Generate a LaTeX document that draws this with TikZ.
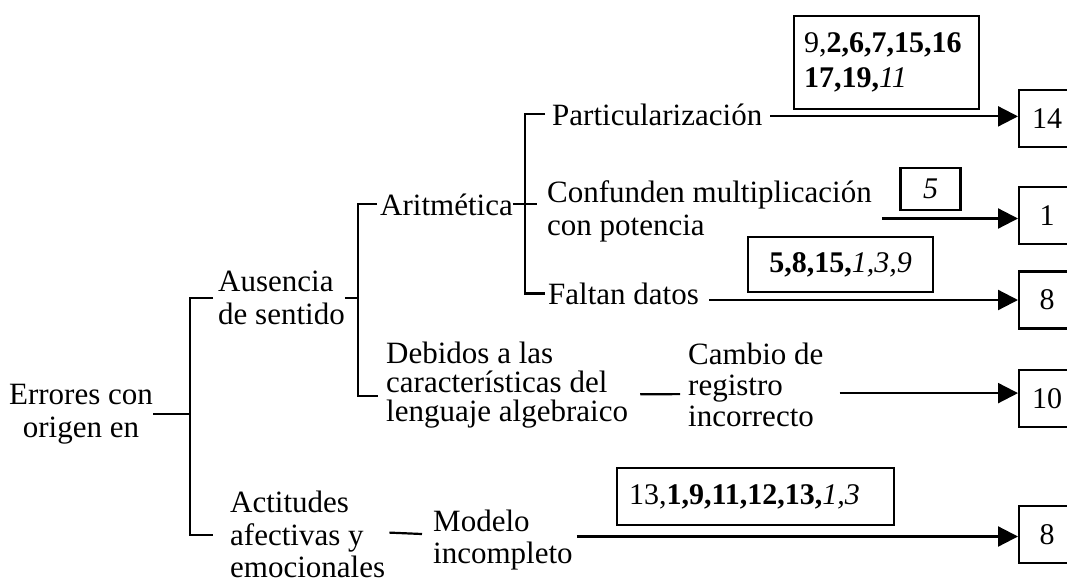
\documentclass[tikz,border=0pt]{standalone}
\usepackage{fontspec}
\setmainfont{Liberation Serif}
\usetikzlibrary{arrows.meta,calc}
\begin{document}
\begin{tikzpicture}[x=1pt,y=-1pt,
  txt/.style={inner sep=0pt, font=\fontsize{31}{33}\selectfont, align=left},
  numbox/.style={draw, line width=2.2pt, inner sep=0pt, font=\fontsize{30}{35}\selectfont},
  res/.style={draw, line width=2.2pt, minimum width=56pt, minimum height=57pt, inner sep=0pt, anchor=west, font=\fontsize{30}{34}\selectfont},
  con/.style={line width=2.2pt},
  arr/.style={line width=2.2pt, -{Triangle[length=20pt,width=20pt]}},
]
\useasboundingbox (0,0) rectangle (1067,586);
\clip (0,0) rectangle (1067,586);

% text nodes
\node[txt, align=center, anchor=north] (err) at (81,384) {Errores con\\origen en};
\node[txt, anchor=north west] (aus) at (218,271) {Ausencia\\de sentido};
\node[txt, anchor=base west] (arit) at (380,215) {Aritmética};
\node[txt, anchor=base west] (part) at (552,125) {Particularización};
\node[txt, anchor=north west] (conf) at (547,180) {Confunden multiplicación\\con potencia};
\node[txt, anchor=base west] (falt) at (548,304) {Faltan datos};
\node[txt, anchor=north west, font=\fontsize{31}{29}\selectfont] (deb) at (386,342) {Debidos a las\\características del\\lenguaje algebraico};
\node[txt, anchor=north west, font=\fontsize{31}{31}\selectfont] (cam) at (688,343) {Cambio de\\registro\\incorrecto};
\node[txt, anchor=north west, font=\fontsize{31}{32.5}\selectfont] (act) at (230,491) {Actitudes\\afectivas y\\emocionales};
\node[txt, anchor=north west, font=\fontsize{31}{31.5}\selectfont] (mod) at (433,510) {Modelo\\incompleto};

% result boxes
\node[res] (r14) at (1018,118.5) {14};
\node[res] (r1) at (1018,215.5) {1};
\node[res] (r8a) at (1018,300) {8};
\node[res] (r10) at (1018,398.5) {10};
\node[res] (r8b) at (1018,534.5) {8};

% label boxes
\node[numbox, anchor=north west, align=left, text width=165pt, inner xsep=10pt, minimum height=93pt] (l1) at (793,15) {9,\textbf{2,6,7,15,16}\\\textbf{17,19,}\textit{11}};
\node[numbox, minimum width=60pt, minimum height=42pt] (l2) at (930.5,189) {\textit{5}};
\node[numbox, minimum width=185pt, minimum height=55pt] (l3) at (840.5,264.5) {\textbf{5,8,15,}\textit{1,3,9}};
\node[numbox, anchor=west, minimum width=277pt, minimum height=57pt, text width=253pt, inner xsep=12pt, align=left] (l4) at (616,496.5) {13,\textbf{1,9,11,12,13,}\textit{1,3}};

% bracket spines
\coordinate (s1) at (190,416);
\coordinate (s2) at (358,301);
\coordinate (s3) at (525,205);

\draw[con] (err.east) -- (err.east -| s1);
\draw[con] ($(aus.west)+(-5,0)$) -- (aus.west -| s1) -- (act.west -| s1) -- ($(act.west)+(-17,0)$);
\draw[con] (aus.east) -- (aus.east -| s2);
\draw[con] ($(arit.west)+(-3,0)$) -- (arit.west -| s2) -- ($(deb.west -| s2)+(0,11)$) -- ($(deb.west)+(-8,11)$);
\draw[con] (arit.east) -- ($(arit.east -| conf.west)+(-10,0)$);
\draw[con] ($(part.west)+(-7,0)$) -- (part.west -| s3) -- (falt.west -| s3) -- ($(falt.west)+(-3,0)$);

% arrows
\draw[arr] ($(part.east)+(8,2)$) -- ($(part.east -| r14.west)+(0,2)$);
\draw[arr] ($(conf.east |- r1.west)+(10,3)$) -- ($(r1.west)+(0,3)$);
\draw[arr] ($(falt.east |- r8a.west)+(10,0)$) -- (r8a.west);
\draw[con] ($(deb.east)+(12,9)$) -- ($(cam.west)+(-8,9)$);
\draw[arr] ($(cam.east)+(16,8)$) -- ($(cam.east -| r10.west)+(0,8)$);
\draw[con] ($(act.east)+(4,-2)$) -- ($(mod.west)+(-11,-6)$);
\draw[arr] ($(mod.east |- r8b.west)+(4,2)$) -- ($(r8b.west)+(0,2)$);
\end{tikzpicture}
\end{document}
